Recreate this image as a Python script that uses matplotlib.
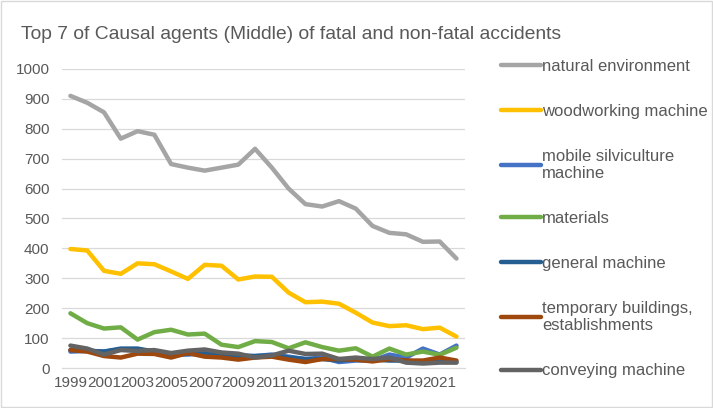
import matplotlib.pyplot as plt
from matplotlib.patches import Rectangle

years = list(range(1999, 2023))

natural_environment = [910, 887, 855, 767, 792, 780, 682, 670, 660, 670, 680, 733,
                       670, 600, 548, 540, 558, 533, 475, 452, 447, 422, 423, 366]
woodworking_machine = [398, 393, 325, 315, 350, 347, 323, 298, 345, 342, 296, 306,
                       305, 252, 220, 222, 215, 185, 152, 140, 143, 130, 135, 105]
mobile_silviculture = [55, 57, 55, 62, 62, 55, 45, 45, 50, 45, 40, 40,
                       45, 38, 30, 35, 20, 25, 25, 45, 35, 65, 45, 75]
materials = [183, 150, 132, 136, 95, 120, 128, 112, 115, 78, 70, 90,
             87, 66, 86, 70, 58, 66, 38, 65, 45, 55, 44, 68]
general_machine = [60, 58, 55, 65, 65, 55, 48, 48, 48, 45, 42, 40,
                   42, 35, 30, 30, 25, 30, 28, 25, 25, 20, 22, 20]
temporary_buildings = [60, 55, 40, 35, 48, 47, 35, 50, 38, 35, 28, 35,
                       38, 28, 20, 30, 30, 28, 22, 30, 25, 25, 35, 25]
conveying_machine = [75, 65, 45, 60, 57, 60, 50, 58, 62, 52, 48, 35,
                     42, 58, 47, 48, 30, 35, 30, 35, 18, 15, 18, 18]

series = [
    ("natural environment", natural_environment, "#A5A5A5"),
    ("woodworking machine", woodworking_machine, "#FFC000"),
    ("mobile silviculture\nmachine", mobile_silviculture, "#4472C4"),
    ("materials", materials, "#70AD47"),
    ("general machine", general_machine, "#255E91"),
    ("temporary buildings,\nestablishments", temporary_buildings, "#9E480E"),
    ("conveying machine", conveying_machine, "#636363"),
]

plt.rcParams['font.family'] = ['Liberation Sans', 'DejaVu Sans']
text_col = "#595959"

fig = plt.figure(figsize=(7.13, 4.08), dpi=100)
ax = fig.add_axes([0.087, 0.098, 0.565, 0.733])

x = list(range(len(years)))
for label, vals, col in series:
    ax.plot(x, vals, color=col, lw=3.2, label=label, solid_capstyle='round')

ax.set_xlim(-0.5, len(years) - 0.5)
ax.set_ylim(0, 1000)
ax.set_yticks(range(0, 1001, 100))
ax.set_xticks(x[::2])
ax.set_xticklabels([str(y) for y in years[::2]])
ax.tick_params(axis='both', length=0, labelsize=11, colors=text_col)
ax.tick_params(axis='y', pad=9)
ax.tick_params(axis='x', pad=6)
ax.grid(axis='y', color="#D9D9D9", lw=0.9)
ax.set_axisbelow(True)
for s in ['top', 'right', 'left']:
    ax.spines[s].set_visible(False)
ax.spines['bottom'].set_color("#D9D9D9")

fig.text(0.03, 0.905, "Top 7 of Causal agents (Middle) of fatal and non-fatal accidents",
         fontsize=13.9, color=text_col)

fig.legend(loc='upper left', bbox_to_anchor=(0.682, 0.893), frameon=False,
           fontsize=12, labelspacing=1.8, handlelength=2.4, handletextpad=0.05,
           labelcolor=text_col)

fig.add_artist(Rectangle((0.002, 0.002), 0.996, 0.996, transform=fig.transFigure,
                         fill=False, edgecolor="#D9D9D9", lw=1))

fig.savefig("out.png", dpi=100)
